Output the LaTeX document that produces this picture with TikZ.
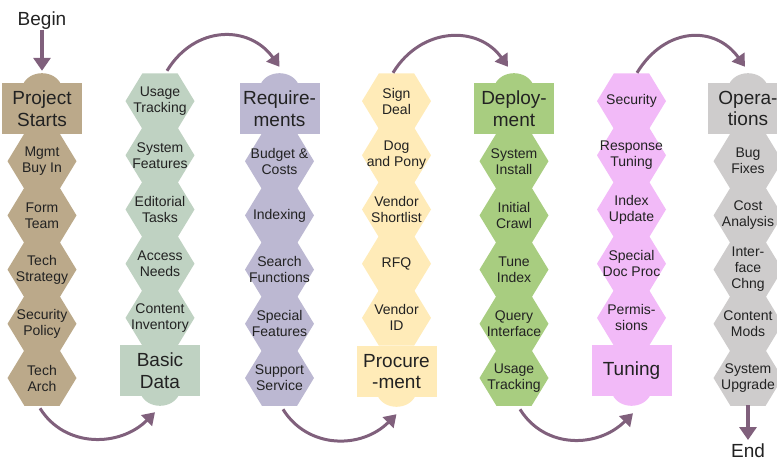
\documentclass[tikz,border=0pt]{standalone}
\usepackage{fontspec}
\setmainfont{Liberation Sans}
\usetikzlibrary{arrows.meta}

\definecolor{startc}{HTML}{BBA98A}
\definecolor{datac}{HTML}{BFD2C2}
\definecolor{reqc}{HTML}{BCB8D2}
\definecolor{procc}{HTML}{FFEBB8}
\definecolor{deplc}{HTML}{A8CD80}
\definecolor{tunec}{HTML}{F2BAF8}
\definecolor{opc}{HTML}{CECCCC}
\definecolor{flowc}{HTML}{80607C}
\definecolor{textc}{HTML}{222222}

\newcommand{\hexshape}{(-34.5,0) -- (-17.6,-27.8) -- (17.6,-27.8) -- (34.5,0) -- (17.6,27.8) -- (-17.6,27.8) -- cycle}

\tikzset{
  item/.style={minimum width=69pt, minimum height=54.2pt, inner sep=0pt, align=center,
    text=textc, font=\fontsize{14}{16}\selectfont},
  header/.style={minimum width=80pt, minimum height=51pt, inner sep=0pt, align=center,
    text=textc, font=\fontsize{19}{21.5}\selectfont},
  termtext/.style={inner sep=0pt, text=textc, font=\fontsize{19}{21}\selectfont},
  flow/.style={flowc, line width=3pt, -{Triangle[length=12pt,width=15pt]}},
  endflow/.style={flowc, line width=3.5pt, -{Triangle[length=13pt,width=17pt]}}
}

\begin{document}
\begin{tikzpicture}[x=1pt,y=-1pt]
    \useasboundingbox (0,0) rectangle (777,461);

    % draw column 1
    \node[header, fill=startc] (h1) at (42,108.5) {Project\\Starts};
    \fill[startc] ([xshift=-19pt,yshift=-1.5pt]h1.north) .. controls +(7,-14.8) and +(-7,-14.8) .. ([xshift=19pt,yshift=-1.5pt]h1.north);
    \foreach \t [count=\i] in {{Mgmt\\Buy In}, {Form\\Team}, {Tech\\Strategy}, {Security\\Policy}, {Tech\\Arch}}
        \fill[startc, shift={(42,107+54.2*\i)}] \hexshape (0,0) node[item] (c1-\i) {\t};

    % draw column 2
    \foreach \t [count=\i] in {{Usage\\Tracking}, {System\\Features}, {Editorial\\Tasks}, {Access\\Needs}, {Content\\Inventory}}
        \fill[datac, shift={(160,46.9+54.2*\i)}] \hexshape (0,0) node[item] (c2-\i) {\t};
    \node[header, fill=datac] (h2) at (160,370.5) {Basic\\Data};
    \fill[datac] ([xshift=-19pt,yshift=1.5pt]h2.south) .. controls +(7,14.8) and +(-7,14.8) .. ([xshift=19pt,yshift=1.5pt]h2.south);

    % draw column 3
    \node[header, fill=reqc] (h3) at (279.5,108.5) {Require-\\ments};
    \fill[reqc] ([xshift=-19pt,yshift=-1.5pt]h3.north) .. controls +(7,-14.8) and +(-7,-14.8) .. ([xshift=19pt,yshift=-1.5pt]h3.north);
    \foreach \t [count=\i] in {{Budget \&\\Costs}, {Indexing}, {Search\\Functions}, {Special\\Features}, {Support\\Service}}
        \fill[reqc, shift={(279.5,107+54.2*\i)}] \hexshape (0,0) node[item] (c3-\i) {\t};

    % draw column 4
    \foreach \t [count=\i] in {{Sign\\Deal}, {Dog\\and Pony}, {Vendor\\Shortlist}, {RFQ}, {Vendor\\ID}}
        \fill[procc, shift={(396.5,46.9+54.2*\i)}] \hexshape (0,0) node[item] (c4-\i) {\t};
    \node[header, fill=procc] (h4) at (396.5,371.5) {Procure\\-ment};
    \fill[procc] ([xshift=-19pt,yshift=1.5pt]h4.south) .. controls +(7,14.8) and +(-7,14.8) .. ([xshift=19pt,yshift=1.5pt]h4.south);

    % draw column 5
    \node[header, fill=deplc] (h5) at (514,108.5) {Deploy-\\ment};
    \fill[deplc] ([xshift=-19pt,yshift=-1.5pt]h5.north) .. controls +(7,-14.8) and +(-7,-14.8) .. ([xshift=19pt,yshift=-1.5pt]h5.north);
    \foreach \t [count=\i] in {{System\\Install}, {Initial\\Crawl}, {Tune\\Index}, {Query\\Interface}, {Usage\\Tracking}}
        \fill[deplc, shift={(514,107+54.2*\i)}] \hexshape (0,0) node[item] (c5-\i) {\t};

    % draw column 6
    \foreach \t [count=\i] in {{Security}, {Response\\Tuning}, {Index\\Update}, {Special\\Doc Proc}, {Permis-\\sions}}
        \fill[tunec, shift={(631.5,46.9+54.2*\i)}] \hexshape (0,0) node[item] (c6-\i) {\t};
    \node[header, fill=tunec] (h6) at (631.5,370.5) {Tuning};
    \fill[tunec] ([xshift=-19pt,yshift=1.5pt]h6.south) .. controls +(7,14.8) and +(-7,14.8) .. ([xshift=19pt,yshift=1.5pt]h6.south);

    % draw column 7
    \node[header, fill=opc] (h7) at (748,108.5) {Opera-\\tions};
    \fill[opc] ([xshift=-19pt,yshift=-1.5pt]h7.north) .. controls +(7,-14.8) and +(-7,-14.8) .. ([xshift=19pt,yshift=-1.5pt]h7.north);
    \foreach \t [count=\i] in {{Bug\\Fixes}, {Cost\\Analysis}, {Inter-\\face\\Chng}, {Content\\Mods}, {System\\Upgrade}}
        \fill[opc, shift={(748,107+54.2*\i)}] \hexshape (0,0) node[item] (c7-\i) {\t};

    % draw begin and end
    \node[termtext, anchor=base] (begin) at (42,25.5) {Begin};
    \draw[endflow] (begin.south) -- ([yshift=12pt]h1.north);
    \node[termtext, anchor=base] (finish) at (748,457) {End};
    \draw[endflow] (c7-5.south) -- ([yshift=3pt]finish.north);

    % draw arrows over the top
    \draw[flow] ([xshift=7pt,yshift=3pt]c2-1.north) .. controls +(28,-46) and +(-30,-42) .. ([yshift=16pt]h3.north);
    \draw[flow] ([xshift=-3.5pt,yshift=1pt]c4-1.north) .. controls +(28,-46) and +(-30,-42) .. ([xshift=-6pt,yshift=16pt]h5.north);
    \draw[flow] ([xshift=5.5pt,yshift=1pt]c6-1.north) .. controls +(28,-46) and +(-30,-42) .. ([xshift=-3pt,yshift=16pt]h7.north);

    % draw arrows along the bottom
    \draw[flow] ([xshift=-2pt,yshift=-3pt]c1-5.south) .. controls +(25,40) and +(-35,35) .. ([xshift=-5pt,yshift=-16pt]h2.south);
    \draw[flow] ([xshift=3.5pt,yshift=-4pt]c3-5.south) .. controls +(25,40) and +(-35,35) .. ([yshift=-17pt]h4.south);
    \draw[flow] ([xshift=6pt,yshift=-4pt]c5-5.south) .. controls +(25,40) and +(-35,35) .. ([xshift=1.5pt,yshift=-17pt]h6.south);
\end{tikzpicture}
\end{document}
